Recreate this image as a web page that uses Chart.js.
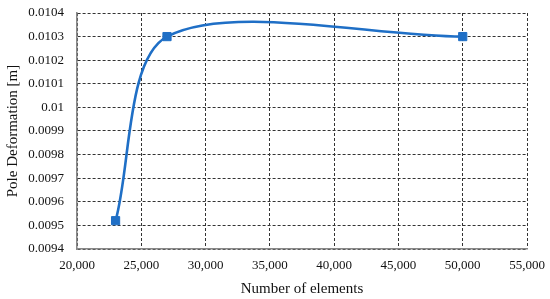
<!DOCTYPE html>
<html>
<head>
<meta charset="utf-8">
<script src="https://cdn.jsdelivr.net/npm/chart.js@4"></script>
<style>
  body { margin: 0; background: #fff; }
  #wrap { width: 550px; height: 299px; }
</style>
</head>
<body>
<div id="wrap"><canvas id="chart" width="550" height="299"></canvas></div>
<script>
// data
const elements = [23000, 27000, 50000];
const deformation = [0.00952, 0.0103, 0.0103];
const xTicks = [20000, 25000, 30000, 35000, 40000, 45000, 50000, 55000];
const yTicks = [0.0094, 0.0095, 0.0096, 0.0097, 0.0098, 0.0099, 0.01, 0.0101, 0.0102, 0.0103, 0.0104];

const points = elements.map((x, i) => ({ x: x, y: deformation[i] }));
const serif = "'Liberation Serif', 'Times New Roman', serif";

const ctx = document.getElementById('chart').getContext('2d');

const chartGraph = new Chart(ctx, {
  type: 'scatter',
  data: {
    datasets: [{
      data: points,
      showLine: true,
      borderColor: '#1f6fc6',
      backgroundColor: '#1f6fc6',
      borderWidth: 2.6,
      tension: 0.3,
      pointStyle: 'rect',
      pointRadius: 5.8,
      pointHoverRadius: 5.8,
      pointBorderWidth: 1
    }]
  },
  options: {
    responsive: false,
    animation: false,
    elements: { line: { capBezierPoints: false } },
    layout: { padding: { top: 13, right: 23, left: 0, bottom: 0 } },
    plugins: { legend: { display: false }, tooltip: { enabled: false } },
    scales: {
      x: {
        type: 'linear',
        min: 20000,
        max: 55000,
        afterBuildTicks: (s) => { s.ticks = xTicks.map(v => ({ value: v })); },
        afterFit: (s) => {
          // fixed axis height, no extra room for end labels
          s.height = 50;
          s.paddingLeft = 0;
          s.paddingRight = 0;
        },
        ticks: {
          color: '#111',
          font: { family: serif, size: 13 },
          padding: 9,
          maxRotation: 0,
          callback: (v) => v.toLocaleString('en-US')
        },
        grid: { color: '#333', lineWidth: 1, drawTicks: false },
        border: { color: '#888', width: 1.6, dash: [3, 2] },
        title: {
          display: true,
          text: 'Number of elements',
          color: '#111',
          font: { family: serif, size: 15 },
          padding: { top: 2, bottom: 1 }
        }
      },
      y: {
        type: 'linear',
        min: 0.0094,
        max: 0.0104,
        afterBuildTicks: (s) => { s.ticks = yTicks.map(v => ({ value: v })); },
        afterFit: (s) => {
          s.width = 77;
          s.paddingTop = 0;
          s.paddingBottom = 0;
        },
        ticks: {
          color: '#111',
          font: { family: serif, size: 13 },
          padding: 13,
          callback: (v) => String(+v.toFixed(4))
        },
        grid: { color: '#333', lineWidth: 1, drawTicks: false },
        border: { color: '#888', width: 1.6, dash: [3, 2] },
        title: {
          display: true,
          text: 'Pole Deformation [m]',
          color: '#111',
          font: { family: serif, size: 15 },
          padding: { top: 4, bottom: 4 }
        }
      }
    }
  }
});
</script>
</body>
</html>
